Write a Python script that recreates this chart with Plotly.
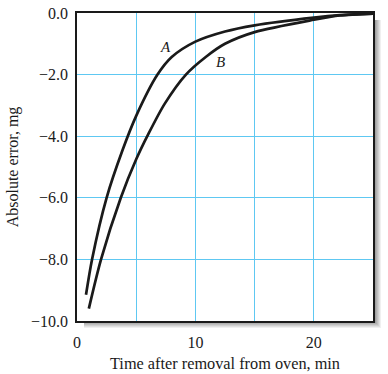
import plotly.graph_objects as go

# Data
t_a = [0.76, 1.27, 2.5, 3.85, 5.0, 6.8, 8.0, 10.0, 12.5, 15.0, 20.0, 22.2, 25.0]
err_a = [-9.15, -8.0, -6.0, -4.45, -3.34, -2.0, -1.43, -0.93, -0.6, -0.4, -0.15, -0.07, -0.02]
t_b = [1.0, 2.03, 3.7, 5.0, 6.0, 7.4, 9.2, 10.9, 12.5, 15.0, 20.0, 22.2, 25.0]
err_b = [-9.6, -8.0, -6.0, -4.75, -3.95, -2.95, -2.0, -1.42, -1.0, -0.62, -0.22, -0.08, -0.02]
x_tick_vals = [0, 5, 10, 15, 20]
x_tick_text = ["0", "", "10", "", "20"]
y_tick_vals = [0, -2, -4, -6, -8, -10]
labels = [("A", 7.5, -1.09), ("B", 12.1, -1.58)]

W, H = 388, 374
L, R, T, B = 77, 373, 13, 321
font = "Liberation Serif"

def px(x):
    return (x - L) / (R - L)

def py(y):
    return (B - y) / (B - T)

fig = go.Figure()
for xs, ys in [(t_a, err_a), (t_b, err_b)]:
    fig.add_trace(go.Scatter(x=xs, y=ys, mode="lines",
                             line=dict(color="#1a1a1a", width=2.7, shape="spline", smoothing=0.8),
                             showlegend=False, hoverinfo="skip", cliponaxis=False))

shapes = []
n = 8
for k in range(n):
    g = int(240 - (240 - 130) * k / (n - 1))
    col = f"rgb({g},{g},{g})"
    shapes.append(dict(type="rect", xref="paper", yref="paper",
                       x0=px(L + 7), x1=px(R + 8 - k), y0=py(T + 7), y1=py(B + 7 - k),
                       fillcolor=col, line=dict(width=0), layer="below"))
shapes.append(dict(type="rect", xref="paper", yref="paper", x0=0, x1=1, y0=0, y1=1,
                   fillcolor="white", line=dict(width=0), layer="below"))

annotations = [dict(x=x, y=y, text=f"<i>{s}</i>", showarrow=False,
                    font=dict(family=font, size=15, color="#1a1a1a")) for s, x, y in labels]

fig.update_layout(
    width=W, height=H,
    margin=dict(l=L, r=W - R, t=T, b=H - B, pad=0, autoexpand=False),
    paper_bgcolor="white", plot_bgcolor="white",
    font=dict(family=font, size=16, color="#1a1a1a"),
    shapes=shapes, annotations=annotations,
    xaxis=dict(range=[0, 25], tickvals=x_tick_vals, ticktext=x_tick_text,
               showgrid=True, gridcolor="#5ec8f2", gridwidth=1,
               showline=True, linecolor="#1a1a1a", linewidth=1.6, mirror=True,
               ticks="", zeroline=False, ticklabelstandoff=6, automargin=False,
               title=dict(text="Time after removal from oven, min", standoff=8,
                          font=dict(family=font, size=16.3))),
    yaxis=dict(range=[-10, 0], tickvals=y_tick_vals, tickformat=".1f",
               showgrid=True, gridcolor="#5ec8f2", gridwidth=1,
               showline=True, linecolor="#1a1a1a", linewidth=1.6, mirror=True,
               ticks="", zeroline=False, ticklabelstandoff=4, automargin=False,
               title=dict(text="Absolute error, mg", standoff=8,
                          font=dict(family=font, size=16))),
)

fig.write_html("out.html", config={"displayModeBar": False},
               post_script="document.body.style.margin='0';")
